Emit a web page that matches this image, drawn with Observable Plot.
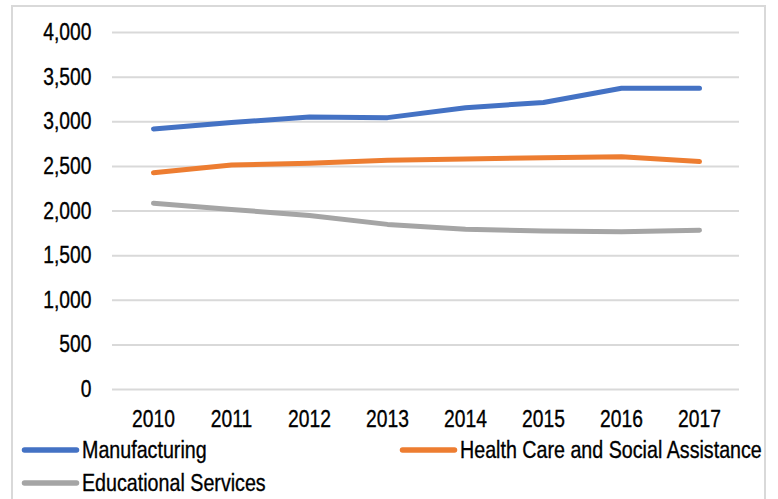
<!DOCTYPE html>
<html>
<head>
<meta charset="utf-8">
<script src="https://cdn.jsdelivr.net/npm/d3@7"></script>
<script src="https://cdn.jsdelivr.net/npm/@observablehq/plot@0.6"></script>
<style>
  html, body { margin: 0; padding: 0; background: #fff; }
  #wrap { position: relative; width: 778px; height: 499px; overflow: hidden; background: #fff; }
  #frame { position: absolute; left: 11px; top: 5px; width: 755px; height: 530px; border: 2px solid #d9d9d9; box-sizing: border-box; }
  #chart { position: absolute; left: 0; top: 0; }
  #legend { position: absolute; left: 0; top: 432px; }
</style>
</head>
<body>
<div id="wrap">
  <div id="frame"></div>
  <div id="chart"></div>
  <div id="legend"></div>
</div>
<script>
const years = ["2010", "2011", "2012", "2013", "2014", "2015", "2016", "2017"];
const seriesNames = ["Manufacturing", "Health Care and Social Assistance", "Educational Services"];
const manufacturing = [2920, 2992, 3052, 3046, 3158, 3216, 3376, 3376];
const healthCare = [2428, 2516, 2534, 2568, 2584, 2596, 2608, 2554];
const educational = [2088, 2018, 1950, 1850, 1795, 1776, 1768, 1784];
const colors = ["#4472C4", "#ED7D31", "#A5A5A5"];
const yTicks = [0, 500, 1000, 1500, 2000, 2500, 3000, 3500, 4000];

const seriesValues = [manufacturing, healthCare, educational];
const data = [];
seriesNames.forEach((s, i) => years.forEach((y, j) => data.push({series: s, year: y, value: seriesValues[i][j]})));

const font = '"Liberation Sans", Arial, sans-serif';
const narrow = 0.82; // emulate Arial Narrow

const chart = Plot.plot({
  width: 778,
  height: 432,
  marginLeft: 112,
  marginRight: 39,
  marginTop: 32,
  marginBottom: 43,
  style: {fontFamily: font, fontSize: "23.5px", color: "#000", background: "transparent"},
  x: {type: "point", domain: years, padding: 0.5, label: null},
  y: {domain: [0, 4000], label: null},
  color: {domain: seriesNames, range: colors},
  marks: [
    Plot.ruleY(yTicks, {stroke: "#d9d9d9", strokeWidth: 2, strokeOpacity: 1}),
    Plot.axisY({ticks: yTicks, tickSize: 0, tickPadding: 21, tickFormat: d3.format(","), fontSize: 23.5, label: null}),
    Plot.axisX({tickSize: 0, tickPadding: 21, fontSize: 23.5, label: null}),
    Plot.line(data, {x: "year", y: "value", z: "series", stroke: "series", strokeWidth: 5, strokeLinecap: "round", strokeLinejoin: "round"})
  ]
});
document.getElementById("chart").appendChild(chart);

// narrow the tick label glyphs horizontally around each label's anchor point
const isNum = v => v != null && /^-?[\d.]+$/.test(v.trim());
chart.querySelectorAll('g[aria-label$="tick label"] text').forEach(t => {
  let tr = t.getAttribute("transform") || "";
  const xa = t.getAttribute("x"), ya = t.getAttribute("y");
  let tx = 0, ty = 0;
  if (isNum(xa)) { tx = +xa; t.removeAttribute("x"); }
  if (isNum(ya)) { ty = +ya; t.removeAttribute("y"); }
  const dxa = t.getAttribute("dx");
  if (isNum(dxa)) { tx += +dxa; t.removeAttribute("dx"); }
  if (tx || ty) tr += ` translate(${tx},${ty})`;
  t.setAttribute("transform", tr + ` scale(${narrow},1)`);
  t.setAttribute("stroke", "#000");
  t.setAttribute("stroke-width", "0.35");
});

// legend (below the plot)
const lsvg = d3.select("#legend").append("svg")
  .attr("width", 778).attr("height", 67)
  .style("font-family", font).style("font-size", "24px");
const legendPos = [
  {x: 22, y: 18},
  {x: 400, y: 18},
  {x: 22, y: 51}
];
seriesNames.forEach((s, i) => {
  const g = lsvg.append("g").attr("transform", `translate(${legendPos[i].x},${legendPos[i].y})`);
  g.append("line").attr("x1", 2.5).attr("x2", 54.5).attr("y1", 0).attr("y2", 0)
    .attr("stroke", colors[i]).attr("stroke-width", 5.5).attr("stroke-linecap", "round");
  g.append("text").attr("transform", `translate(60,8.3) scale(${narrow},1)`)
    .attr("fill", "#000").attr("stroke", "#000").attr("stroke-width", 0.35)
    .text(s);
});
</script>
</body>
</html>
